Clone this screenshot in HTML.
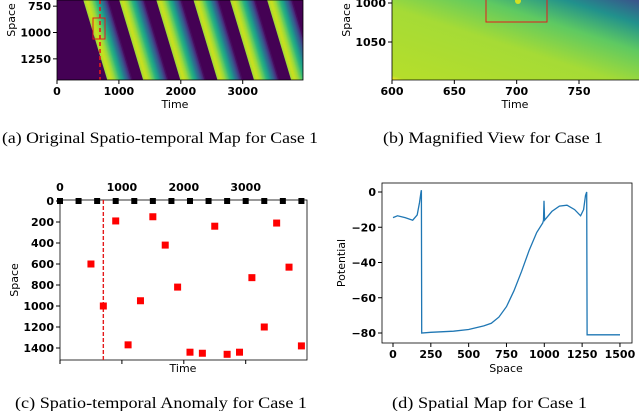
<!DOCTYPE html>
<html><head><meta charset="utf-8"><style>
body{margin:0;background:#fff;}
svg{display:block;}
.tk{font-family:"DejaVu Sans","Liberation Sans",sans-serif;font-weight:bold;font-size:11px;fill:#000;}
.lb{font-family:"DejaVu Sans","Liberation Sans",sans-serif;font-size:11px;fill:#000;}
.cap{font-family:"Liberation Serif",serif;font-size:16px;fill:#000;}
</style></head><body>
<svg id="fig" width="640" height="411" viewBox="0 0 640 411" xmlns="http://www.w3.org/2000/svg">
<defs>
<clipPath id="clipA"><rect x="57" y="0" width="246" height="80"/></clipPath>
<linearGradient id="gB" x1="0" y1="1" x2="1" y2="0">
<stop offset="0" stop-color="#fde725"/><stop offset="0.03" stop-color="#b5de2b"/>
<stop offset="0.45" stop-color="#a5db36"/><stop offset="0.68" stop-color="#5ec962"/>
<stop offset="0.85" stop-color="#21918c"/><stop offset="1" stop-color="#3b528b"/>
</linearGradient>
</defs>
<!-- Panel A -->
<g>
<rect x="57" y="0" width="246" height="80" fill="#440154"/>
<g id="bandsA" clip-path="url(#clipA)"></g>
<line x1="100" y1="0" x2="100" y2="80" stroke="#e41a1c" stroke-width="1.6" stroke-dasharray="4,3"/>
<rect x="93" y="18" width="12" height="21" fill="none" stroke="#e41a1c" stroke-width="1"/>
<rect x="57" y="0" width="246" height="80" fill="none" stroke="#000" stroke-width="0.8"/>
<g id="axA"></g>
<text class="lb" x="175" y="108" text-anchor="middle">Time</text>
<text class="lb" transform="translate(15,20) rotate(-90)" text-anchor="middle">Space</text>
<text class="cap" x="2" y="143" textLength="316" lengthAdjust="spacingAndGlyphs">(a) Original Spatio-temporal Map for Case 1</text>
</g>
<!-- Panel B -->
<g>
<rect x="392" y="0" width="247" height="80" fill="url(#gB)"/>
<ellipse cx="518" cy="1" rx="3" ry="3" fill="#e0e41c" opacity="0.9"/>
<rect x="486" y="-1" width="61" height="23" fill="none" stroke="#e41a1c" stroke-width="1"/>
<line x1="392" y1="0" x2="392" y2="80" stroke="#000" stroke-width="0.8"/>
<line x1="392" y1="80" x2="639" y2="80" stroke="#000" stroke-width="0.8"/>
<g id="axB"></g>
<text class="lb" x="515" y="108" text-anchor="middle">Time</text>
<text class="lb" transform="translate(350,20) rotate(-90)" text-anchor="middle">Space</text>
<text class="cap" x="383" y="143" textLength="220" lengthAdjust="spacingAndGlyphs">(b) Magnified View for Case 1</text>
</g>
<!-- Panel C -->
<g>
<rect x="60" y="200" width="247" height="160" fill="none" stroke="#000" stroke-width="0.8"/>
<g id="plotC"></g>
<text class="lb" x="183" y="372" text-anchor="middle">Time</text>
<text class="lb" transform="translate(18,280) rotate(-90)" text-anchor="middle">Space</text>
<text class="cap" x="15" y="408" textLength="292" lengthAdjust="spacingAndGlyphs">(c) Spatio-temporal Anomaly for Case 1</text>
</g>
<!-- Panel D -->
<g>
<rect x="382" y="183" width="250" height="160" fill="none" stroke="#000" stroke-width="0.8"/>
<g id="plotD"></g>
<text class="lb" x="506" y="372" text-anchor="middle">Space</text>
<text class="lb" transform="translate(345,263) rotate(-90)" text-anchor="middle">Potential</text>
<text class="cap" x="392" y="408" textLength="195" lengthAdjust="spacingAndGlyphs">(d) Spatial Map for Case 1</text>
</g>
</svg>
<script>
const NS="http://www.w3.org/2000/svg";
// ---- data ----
const bandStartTimesA=[400,980,1580,2180,2770,3370];
const xTicksA=[0,1000,2000,3000];
const yTicksA=[750,1000,1250];
const xTicksB=[600,650,700,750];
const yTicksB=[1000,1050];
const anomalyTimes=[500,700,900,1100,1300,1500,1700,1900,2100,2300,2500,2700,2900,3100,3300,3500,3700,3900];
const anomalySpaces=[600,1000,190,1370,950,150,420,820,1440,1450,240,1460,1440,730,1200,210,630,1380];
const sensorTimes=[0,300,600,900,1200,1500,1800,2100,2400,2700,3000,3300,3600,3900];
const xTicksC=[0,1000,2000,3000];
const yTicksC=[0,200,400,600,800,1000,1200,1400];
const spaceD=[0,30,80,130,160,175,185,188,190,250,400,500,600,650,700,750,800,850,900,950,990,995,998,1002,1050,1100,1150,1200,1240,1260,1272,1280,1283,1500];
const potD=[-14.5,-13.5,-14.5,-16,-13,-6,0,1,-80,-79.6,-79,-78,-76,-74.5,-71,-65,-56,-45,-33,-23,-17.5,-16,-5,-16,-11,-8,-7.5,-10,-13.5,-10,-2,0,-81,-81];
const xTicksD=[0,250,500,750,1000,1250,1500];
const yTicksD=[0,-20,-40,-60,-80];
// ---- scales ----
const xA=t=>57+t*0.0619, yA=s=>(s-720)*0.1054;
const xB=t=>392+(t-600)*1.2467, yB=s=>3+(s-1000)*0.78;
const xC=t=>60+t*0.0619, yC=s=>201+s*0.105;
const xD=s=>393+s*0.1513, yD=p=>192-p*1.7625;
function mk(tag,attrs,parent,txt){const e=document.createElementNS(NS,tag);for(const k in attrs)e.setAttribute(k,attrs[k]);if(txt!==undefined)e.textContent=txt;parent.appendChild(e);return e;}
const bandCols=["#a0da39","#b5de2b","#c2df23","#c8e020","#c2df23","#b5de2b","#a8db34","#9bd93c","#86d549","#6ece58","#5ec962","#4ac16d","#35b779","#2ab07f","#22a884","#1f9e89","#21918c","#26828e","#2c728e","#31688e","#38598c","#3e4989","#453781","#482878","#470d60"];
// ---- panel A bands ----
const gA=document.getElementById('bandsA');
bandStartTimesA.forEach((t0)=>{
  const x0=xA(t0), dx=24*85/80;
  bandCols.forEach((c,i)=>{
    const p=mk('polygon',{points:`${x0+i},${-5} ${x0+i+1.4},${-5} ${x0+i+1.4+dx},80 ${x0+i+dx},80`,fill:c},gA);
    
    
  });
});
const axA=document.getElementById('axA');
xTicksA.forEach(t=>{mk('line',{x1:xA(t),y1:80,x2:xA(t),y2:84,stroke:'#000'},axA);const e=mk('text',{class:'tk',x:xA(t),y:95,'text-anchor':'middle'},axA,t);});
yTicksA.forEach(s=>{mk('line',{x1:53,y1:yA(s)+3,x2:57,y2:yA(s)+3,stroke:'#000'},axA);const e=mk('text',{class:'tk',x:51,y:yA(s)+7,'text-anchor':'end'},axA,s);});
// ---- panel B ----
const axB=document.getElementById('axB');
xTicksB.forEach(t=>{mk('line',{x1:xB(t),y1:80,x2:xB(t),y2:84,stroke:'#000'},axB);const e=mk('text',{class:'tk',x:xB(t),y:95,'text-anchor':'middle'},axB,t);});
yTicksB.forEach(s=>{mk('line',{x1:388,y1:yB(s),x2:392,y2:yB(s),stroke:'#000'},axB);const e=mk('text',{class:'tk',x:386,y:yB(s)+4,'text-anchor':'end'},axB,s);});
// ---- panel C ----
const pc=document.getElementById('plotC');
xTicksC.forEach(t=>{const e=mk('text',{class:'tk',x:xC(t),y:191,'text-anchor':'middle'},pc,t);mk('line',{x1:xC(t),y1:360,x2:xC(t),y2:364,stroke:'#000'},pc);});
yTicksC.forEach(s=>{mk('line',{x1:56,y1:yC(s),x2:60,y2:yC(s),stroke:'#000'},pc);const e=mk('text',{class:'tk',x:54,y:yC(s)+4,'text-anchor':'end'},pc,s);});
sensorTimes.forEach(t=>{const r=mk('rect',{x:xC(t)-3,y:yC(0)-3,width:6,height:6,fill:'#000'},pc);});
const dl=mk('line',{x1:xC(700),y1:200,x2:xC(700),y2:360,stroke:'#e41a1c','stroke-width':1.4,'stroke-dasharray':'4,2'},pc);


anomalyTimes.forEach((t,i)=>{const r=mk('rect',{x:xC(t)-3.5,y:yC(anomalySpaces[i])-3.5,width:7,height:7,fill:'#f00'},pc);});
// ---- panel D ----
const pd=document.getElementById('plotD');
xTicksD.forEach(s=>{mk('line',{x1:xD(s),y1:343,x2:xD(s),y2:347,stroke:'#000'},pd);const e=mk('text',{class:'tk',x:xD(s),y:358,'text-anchor':'middle'},pd,s);});
yTicksD.forEach(p=>{mk('line',{x1:378,y1:yD(p),x2:382,y2:yD(p),stroke:'#000'},pd);const e=mk('text',{class:'tk',x:376,y:yD(p)+4,'text-anchor':'end'},pd,p===0?'0':'\u2212'+Math.abs(p));});
const pts=spaceD.map((s,i)=>xD(s).toFixed(1)+','+yD(potD[i]).toFixed(1)).join(' ');
const pl=mk('polyline',{points:pts,fill:'none',stroke:'#1f77b4','stroke-width':1.3},pd);


</script>
</body></html>
